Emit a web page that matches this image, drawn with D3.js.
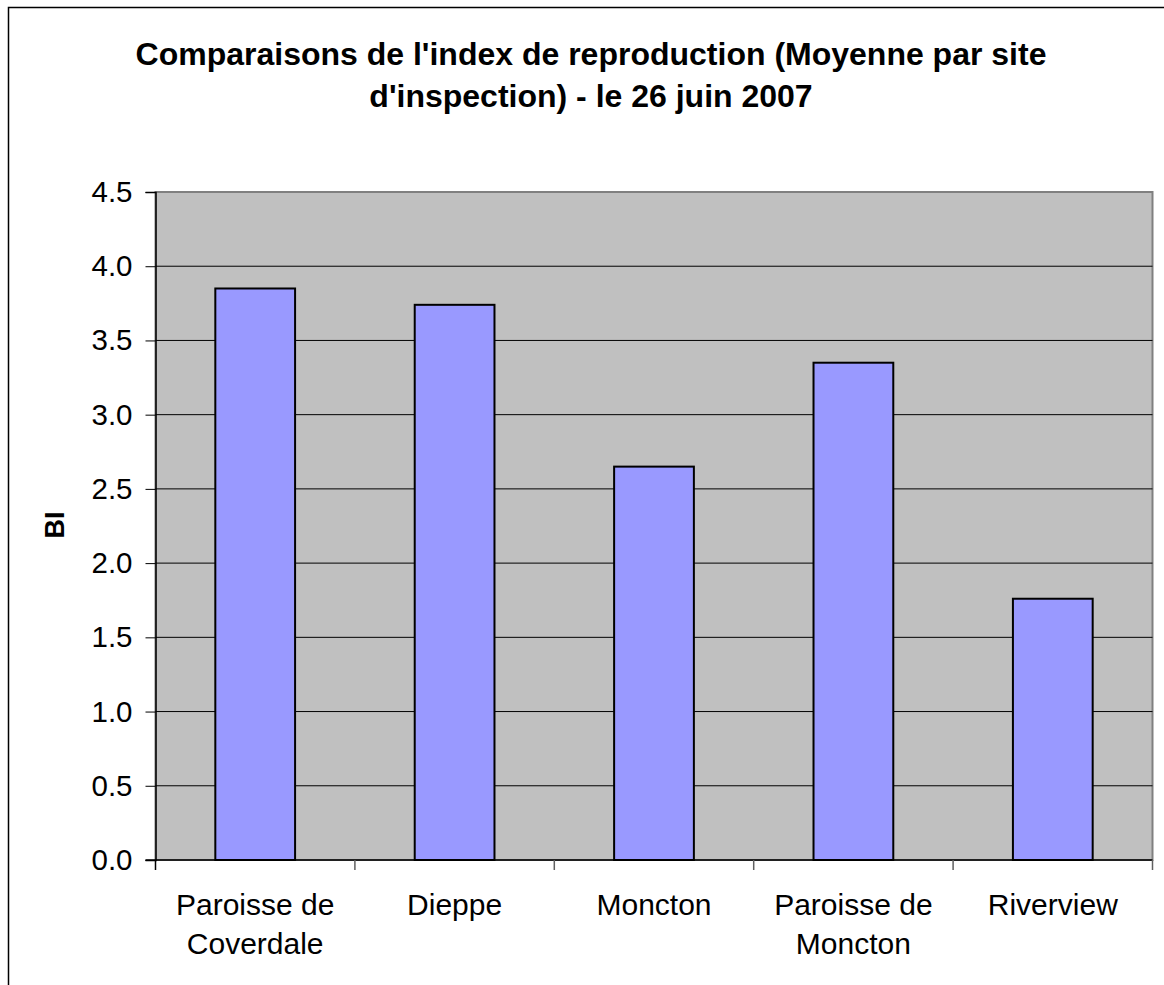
<!DOCTYPE html>
<meta charset="utf-8">
<style>
body { margin: 0; background: #fff; }
text { font-family: "Liberation Sans", Arial, sans-serif; }
</style>
<script src="https://d3js.org/d3.v7.min.js"></script>
<div id="chart"></div>
<script>
// data
var sites = [["Paroisse de", "Coverdale"], ["Dieppe"], ["Moncton"], ["Paroisse de", "Moncton"], ["Riverview"]];
var siteKeys = ["Coverdale", "Dieppe", "Moncton", "PMoncton", "Riverview"];
var biValues = [3.85, 3.74, 2.65, 3.35, 1.76];
var yTicks = [0, 0.5, 1, 1.5, 2, 2.5, 3, 3.5, 4, 4.5];
var titleLines = ["Comparaisons de l'index de reproduction (Moyenne par site", "d'inspection) - le 26 juin 2007"];

var W = 1164, H = 985;
var margin = {top: 192, left: 155.5, right: 11.5, bottom: 125};
var width = W - margin.left - margin.right,
    height = H - margin.top - margin.bottom;

var svg = d3.select("#chart").append("svg")
  .attr("width", W).attr("height", H);

// outer chart border (runs off right and bottom)
svg.append("rect")
  .attr("x", 8.5).attr("y", 7.5)
  .attr("width", W + 20).attr("height", H + 20)
  .attr("fill", "none").attr("stroke", "#000").attr("stroke-width", 1.5);

// title
svg.append("g").selectAll("text")
  .data(titleLines).enter().append("text")
    .attr("x", 591)
    .attr("y", function(d, i) { return 65 + i * 42; })
    .attr("text-anchor", "middle")
    .style("font-size", "32px").style("font-weight", "bold")
    .text(function(d) { return d; });

var g = svg.append("g")
  .attr("transform", "translate(" + margin.left + "," + margin.top + ")");

var x = d3.scaleBand().domain(siteKeys).range([0, width])
  .paddingInner(0.6).paddingOuter(0.3);
var y = d3.scaleLinear().domain([0, 4.5]).range([height, 0]);

// plot background
g.append("rect")
  .attr("width", width).attr("height", height)
  .attr("fill", "#c0c0c0").attr("stroke", "#808080").attr("stroke-width", 2);

// gridlines
g.append("g").selectAll("line")
  .data(yTicks.slice(1, -1)).enter().append("line")
    .attr("x1", 0).attr("x2", width)
    .attr("y1", function(d) { return y(d); }).attr("y2", function(d) { return y(d); })
    .attr("stroke", "#000").attr("stroke-width", 1);

// bars
g.append("g").selectAll("rect")
  .data(biValues).enter().append("rect")
    .attr("x", function(d, i) { return x(siteKeys[i]); })
    .attr("y", function(d) { return y(d); })
    .attr("width", x.bandwidth())
    .attr("height", function(d) { return height - y(d); })
    .attr("fill", "#9999ff").attr("stroke", "#000").attr("stroke-width", 2);

// y axis
var yAxis = g.append("g")
  .call(d3.axisLeft(y).tickValues(yTicks).tickFormat(d3.format(".1f")).tickSize(10).tickPadding(13));
yAxis.select(".domain").attr("stroke", "#000").attr("stroke-width", 1.5);
yAxis.selectAll("line").attr("stroke", "#000");
yAxis.selectAll("text").style("font-size", "29.5px").attr("fill", "#000")
  .style("font-family", "'Liberation Sans', Arial, sans-serif");

// x axis: ticks on category boundaries
var xAxis = g.append("g").attr("transform", "translate(0," + height + ")");
xAxis.append("line").attr("x1", -10).attr("x2", width).attr("stroke", "#000").attr("stroke-width", 1.5);
var step = x.step();
xAxis.selectAll(".tk").data(d3.range(siteKeys.length + 1)).enter().append("line")
  .attr("x1", function(i) { return i * step; }).attr("x2", function(i) { return i * step; })
  .attr("y1", 0).attr("y2", 10)
  .attr("stroke", function(i) { return i === 0 ? "#000" : "#606060"; }).attr("stroke-width", 1.5);

var lbl = xAxis.selectAll(".lbl").data(sites).enter().append("text")
  .attr("text-anchor", "middle")
  .attr("x", function(d, i) { return x(siteKeys[i]) + x.bandwidth() / 2; })
  .style("font-size", "30px");
lbl.selectAll("tspan").data(function(d) { return d; }).enter().append("tspan")
  .attr("x", function() { return d3.select(this.parentNode).attr("x"); })
  .attr("y", function(d, i) { return 55 + i * 39; })
  .text(function(d) { return d; });

// y axis title
svg.append("text")
  .attr("transform", "translate(64,525) rotate(-90)")
  .attr("text-anchor", "middle")
  .style("font-size", "27px").style("font-weight", "bold")
  .text("BI");
</script>
